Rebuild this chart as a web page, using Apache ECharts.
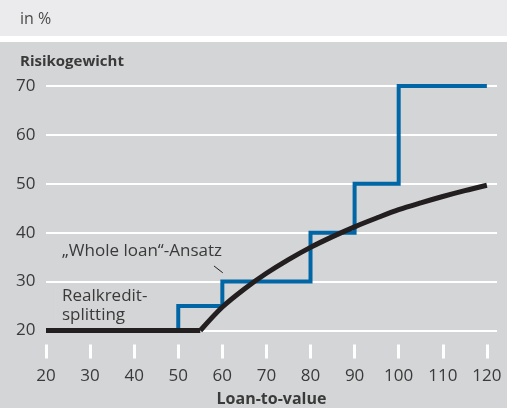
<!DOCTYPE html>
<html><head><meta charset="utf-8">
<script src="https://cdn.jsdelivr.net/npm/echarts@6/dist/echarts.min.js"></script>
<style>html,body{margin:0;padding:0;background:#fff}#c{width:507px;height:408px}</style>
</head><body><div id="c"></div>
<script>
const xTicks = [20, 30, 40, 50, 60, 70, 80, 90, 100, 110, 120];
const yTicks = [20, 30, 40, 50, 60, 70];
// Realkredit-splitting (step function)
const splitX = [20, 50, 50, 60, 60, 80, 80, 90, 90, 100, 100, 120];
const splitY = [20, 20, 25, 25, 30, 30, 40, 40, 50, 50, 70, 70];
// "Whole loan"-Ansatz: flat floor part, then curve
const wholeFlatX = [20, 55];
const wholeFlatY = [20, 20];
const wholeCurveX = [55, 60, 65, 70, 75, 80, 85, 90, 95, 100, 105, 110, 115, 120];
const wholeCurveY = [20, 24.8, 28.5, 31.7, 34.5, 37.0, 39.2, 41.2, 43.0, 44.7, 46.1, 47.4, 48.6, 49.7];

const FONT = 'Open Sans';
const TXT = '#3a3a3a';
const BG_PANEL = '#d4d5d7';
const BLACK = '#231f20';
const chart = echarts.init(document.getElementById('c'), null, {renderer: 'canvas'});
const baseGraphic = [
  {type: 'rect', z: -10, silent: true, shape: {x: 0, y: 0, width: 507, height: 36}, style: {fill: '#ebebed'}},
  {type: 'rect', z: -10, silent: true, shape: {x: 0, y: 42, width: 507, height: 366}, style: {fill: BG_PANEL}}
];
chart.setOption({
  animation: false,
  backgroundColor: '#ffffff',
  textStyle: {fontFamily: FONT},
  title: [
    {text: 'in %', left: 15, top: 6, textStyle: {fontFamily: FONT, fontSize: 16, fontWeight: 'normal', color: '#4a4a4a'}},
    {text: 'Risikogewicht', left: 15, top: 49, textStyle: {fontFamily: FONT, fontSize: 15, fontWeight: 'bold', color: TXT}}
  ],
  grid: {left: 46, right: 10, top: 86, bottom: 77.5, containLabel: false, outerBoundsMode: 'none'},
  xAxis: {
    type: 'value', min: 20, max: 122.3,
    offset: 14,
    name: 'Loan-to-value', nameLocation: 'middle', nameGap: 47,
    nameTextStyle: {fontFamily: FONT, fontSize: 16, fontWeight: 'bold', color: TXT},
    axisLine: {show: false},
    axisTick: {show: true, customValues: xTicks, length: 14, lineStyle: {color: '#ffffff', width: 3}},
    axisLabel: {customValues: xTicks, fontFamily: FONT, fontSize: 17, color: TXT, margin: 23},
    splitLine: {show: false}
  },
  yAxis: {
    type: 'value', min: 20, max: 70, interval: 10,
    axisLine: {show: false}, axisTick: {show: false},
    axisLabel: {align: 'left', margin: 30, fontFamily: FONT, fontSize: 17, color: TXT},
    splitLine: {show: true, lineStyle: {color: '#ffffff', width: 2}}
  },
  graphic: baseGraphic,
  series: [
    {type: 'line', name: 'Realkredit-splitting', data: splitX.map((x, i) => [x, splitY[i]]),
     symbol: 'none', lineStyle: {color: '#0066a6', width: 4, join: 'miter'}, z: 3},
    {type: 'line', name: '„Whole loan“-Ansatz', data: wholeFlatX.map((x, i) => [x, wholeFlatY[i]]),
     symbol: 'none', lineStyle: {color: BLACK, width: 5}, z: 4},
    {type: 'line', name: '„Whole loan“-Ansatz', data: wholeCurveX.map((x, i) => [x, wholeCurveY[i]]),
     symbol: 'none', smooth: 0.3, lineStyle: {color: BLACK, width: 5, join: 'round'}, z: 4}
  ]
});

// annotations positioned via data coordinates
const p1 = chart.convertToPixel({gridIndex: 0}, [58.1, 33.2]);
const p2 = chart.convertToPixel({gridIndex: 0}, [60.1, 31.8]);
const pw = chart.convertToPixel({gridIndex: 0}, [23.6, 36.3]);
const pr = chart.convertToPixel({gridIndex: 0}, [21.8, 25.1]);
chart.setOption({
  graphic: baseGraphic.concat([
    {type: 'line', z: 10, shape: {x1: p1[0], y1: p1[1], x2: p2[0], y2: p2[1]}, style: {stroke: BLACK, lineWidth: 1}},
    {type: 'text', z: 10, x: pw[0], y: pw[1], style: {text: '„Whole loan“-Ansatz', font: 'normal 17px "Open Sans"', fill: TXT, textVerticalAlign: 'middle'}},
    {type: 'text', z: 10, x: pr[0], y: pr[1], style: {text: 'Realkredit-\nsplitting', font: 'normal 17px "Open Sans"', fill: TXT, lineHeight: 19, textVerticalAlign: 'middle', backgroundColor: BG_PANEL, padding: [3, 8, 0, 8]}}
  ])
});
</script></body></html>
